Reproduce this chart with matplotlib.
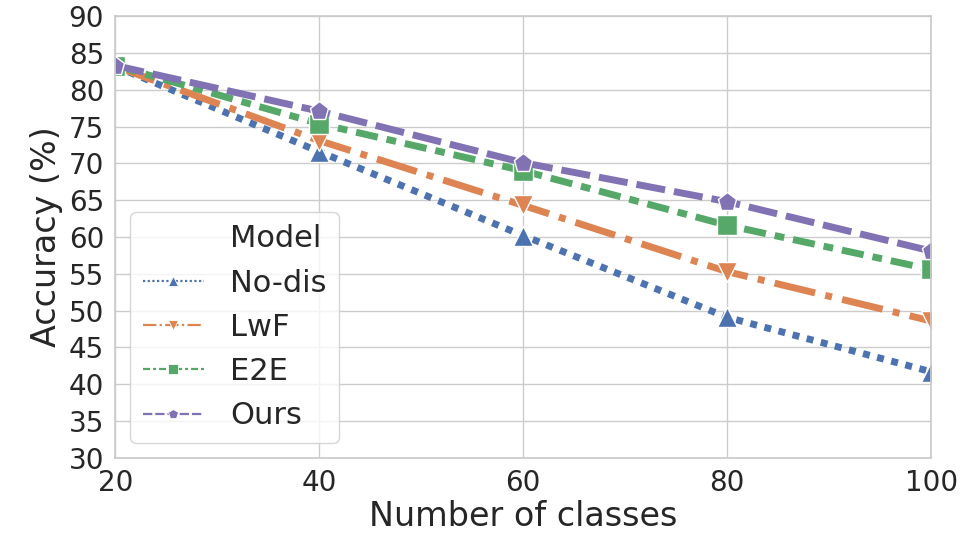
import numpy as np
import pandas as pd
import seaborn as sns
import matplotlib
matplotlib.use("Agg")
import matplotlib.pyplot as plt
from matplotlib.lines import Line2D

classes = [20, 40, 60, 80, 100]
models = ["No-dis", "LwF", "E2E", "Ours"]
acc_nodis = [83.2, 71.6, 60.2, 49.1, 41.7]
acc_lwf = [83.2, 73.1, 64.3, 55.3, 48.6]
acc_e2e = [83.3, 75.4, 69.0, 61.6, 55.6]
acc_ours = [83.3, 77.1, 70.1, 64.8, 58.1]

sns.set_theme(style="whitegrid")
plt.rcParams['font.family'] = ['DejaVu Sans']

deep = sns.color_palette("deep")
colors = [deep[0], deep[1], deep[2], deep[4]]
markers = ["^", "v", "s", "p"]
dashes = [(1, 1.1), (6.0, 1.5, 1, 1.5), (3.2, 1.3, 1.4, 1.3), (4.2, 1.3)]

fig, ax = plt.subplots(figsize=(9.6, 5.4), dpi=100)
series = [acc_nodis, acc_lwf, acc_e2e, acc_ours]
for name, vals, c, m, d in zip(models, series, colors, markers, dashes):
    ax.plot(classes, vals, color=c, lw=5, dashes=d, marker=m,
            markersize=14, markeredgecolor="white", markeredgewidth=1,
            dash_capstyle="butt")

ax.set_xlim(20, 100)
ax.set_ylim(30, 90)
ax.set_xticks([20, 40, 60, 80, 100])
ax.set_yticks(np.arange(30, 91, 5))
ax.tick_params(labelsize=20, pad=2)
ax.set_xlabel("Number of classes", fontsize=24, labelpad=2)
ax.set_ylabel("Accuracy (%)", fontsize=24, labelpad=4)

# legend in the old seaborn style with title as first entry
handles = [Line2D([], [], color="none", label="Model")]
for name, c, m, d in zip(models, colors, markers, dashes):
    handles.append(Line2D([], [], color=c, lw=1.6, dashes=d, marker=m,
                          markersize=7.5, markeredgecolor="white",
                          markeredgewidth=0.6, label=name))
ax.legend(handles=handles, loc="lower left", fontsize=22, frameon=True,
          bbox_to_anchor=(0.0, 0.0), borderaxespad=0.5,
          handlelength=2.0, handletextpad=0.85, labelspacing=0.5)

plt.subplots_adjust(left=0.12, right=0.97, top=0.97, bottom=0.152)
plt.savefig("out.png")
